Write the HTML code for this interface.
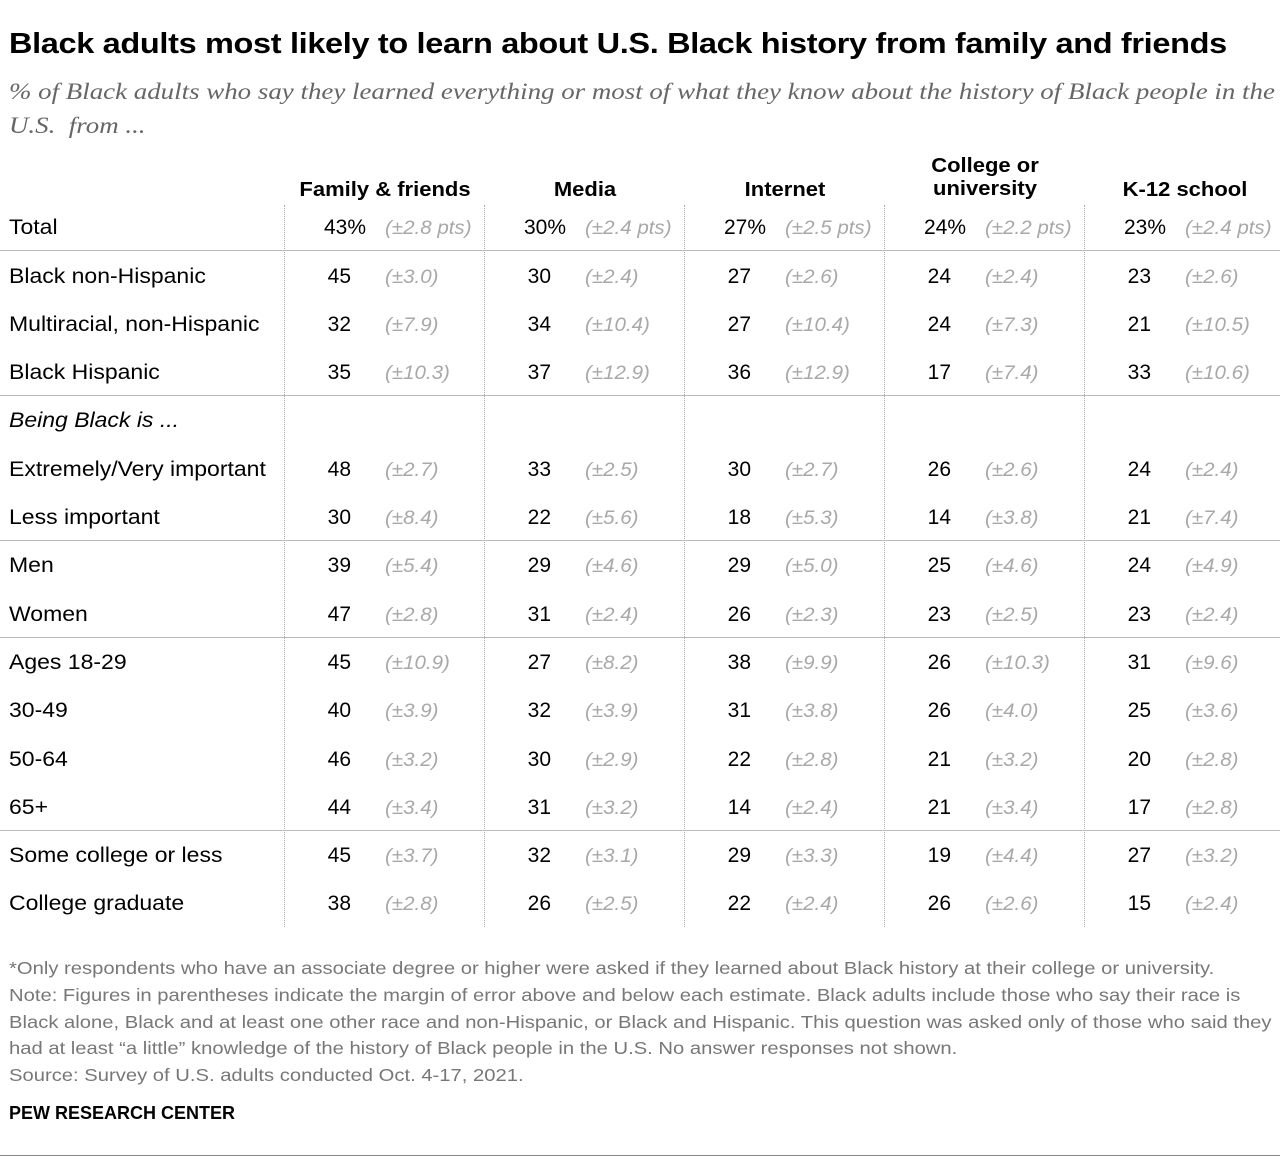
<!DOCTYPE html>
<html><head><meta charset="utf-8"><style>
body{margin:0;width:1280px;height:1160px;background:#fff;font-family:"Liberation Sans",sans-serif;position:relative;overflow:hidden;color:#000}
.a{position:absolute;white-space:nowrap}
.t{left:9px;top:28px;font-size:29px;font-weight:bold;letter-spacing:-0.3px;transform:scaleX(1.12);transform-origin:0 0}
.s{left:9px;font-family:"Liberation Serif",serif;font-style:italic;font-size:23.5px;color:#666;transform:scaleX(1.145);transform-origin:0 0}
.h{font-weight:bold;font-size:20px;text-align:center;width:200px;line-height:23px;transform:scaleX(1.1)}
.l{left:9px;font-size:21px;transform:scaleX(1.095);transform-origin:0 0}
.v{font-size:21px;width:60px;text-align:right}
.m{font-size:19px;font-style:italic;color:#a8a8a8;transform:scaleX(1.08);transform-origin:0 0}
.vl{position:absolute;top:205px;height:722px;border-left:1px dotted #aaa}
.hl{position:absolute;left:0;width:1280px;border-top:1px solid #bbb}
.f{left:9px;font-size:17.5px;color:#777;transform:scaleX(1.155);transform-origin:0 0}
</style></head><body>
<div class="a t">Black adults most likely to learn about U.S. Black history from family and friends</div>
<div class="a s" style="top:79px">% of Black adults who say they learned everything or most of what they know about the history of Black people in the</div>
<div class="a s" style="top:113px">U.S.&nbsp; from ...</div>
<div class="a h" style="left:285px;top:179px">Family &amp; friends</div>
<div class="a h" style="left:485px;top:179px">Media</div>
<div class="a h" style="left:685px;top:179px">Internet</div>
<div class="a h" style="left:885px;top:155px">College or<br>university</div>
<div class="a h" style="left:1085px;top:179px">K-12 school</div>
<div class="vl" style="left:284px"></div><div class="vl" style="left:484px"></div><div class="vl" style="left:684px"></div><div class="vl" style="left:884px"></div><div class="vl" style="left:1084px"></div>
<div class="hl" style="top:250px"></div><div class="hl" style="top:395px"></div><div class="hl" style="top:540px"></div><div class="hl" style="top:637px"></div><div class="hl" style="top:830px"></div>
<div id="rows"></div>
<div class="a f" style="top:958px">*Only respondents who have an associate degree or higher were asked if they learned about Black history at their college or university.</div>
<div class="a f" style="top:985px">Note: Figures in parentheses indicate the margin of error above and below each estimate. Black adults include those who say their race is</div>
<div class="a f" style="top:1012px">Black alone, Black and at least one other race and non-Hispanic, or Black and Hispanic. This question was asked only of those who said they</div>
<div class="a f" style="top:1038px">had at least “a little” knowledge of the history of Black people in the U.S. No answer responses not shown.</div>
<div class="a f" style="top:1065px">Source: Survey of U.S. adults conducted Oct. 4-17, 2021.</div>
<div class="a" style="left:9px;top:1103px;font-size:18px;font-weight:bold">PEW RESEARCH CENTER</div>
<div class="hl" style="top:1155px;border-color:#888"></div>
<script>
var R=[["Total","43%|±2.8 pts","30%|±2.4 pts","27%|±2.5 pts","24%|±2.2 pts","23%|±2.4 pts"],
["Black non-Hispanic","45|±3.0","30|±2.4","27|±2.6","24|±2.4","23|±2.6"],
["Multiracial, non-Hispanic","32|±7.9","34|±10.4","27|±10.4","24|±7.3","21|±10.5"],
["Black Hispanic","35|±10.3","37|±12.9","36|±12.9","17|±7.4","33|±10.6"],
["<i>Being Black is ...</i>"],
["Extremely/Very important","48|±2.7","33|±2.5","30|±2.7","26|±2.6","24|±2.4"],
["Less important","30|±8.4","22|±5.6","18|±5.3","14|±3.8","21|±7.4"],
["Men","39|±5.4","29|±4.6","29|±5.0","25|±4.6","24|±4.9"],
["Women","47|±2.8","31|±2.4","26|±2.3","23|±2.5","23|±2.4"],
["Ages 18-29","45|±10.9","27|±8.2","38|±9.9","26|±10.3","31|±9.6"],
["30-49","40|±3.9","32|±3.9","31|±3.8","26|±4.0","25|±3.6"],
["50-64","46|±3.2","30|±2.9","22|±2.8","21|±3.2","20|±2.8"],
["65+","44|±3.4","31|±3.2","14|±2.4","21|±3.4","17|±2.8"],
["Some college or less","45|±3.7","32|±3.1","29|±3.3","19|±4.4","27|±3.2"],
["College graduate","38|±2.8","26|±2.5","22|±2.4","26|±2.6","15|±2.4"]];
var tops=[216,265,313,361,409,458,506,554,603,651,699,748,796,844,892],h="";
R.forEach(function(r,i){var y=tops[i];h+='<div class="a l" style="top:'+y+'px">'+r[0]+'</div>';
for(var c=1;c<r.length;c++){var p=r[c].split("|"),x=284+(c-1)*200;
var w=p[0].indexOf("%")>0;
h+='<div class="a v" style="top:'+y+'px;left:'+(x+(w?22:7))+'px">'+p[0]+'</div>';
h+='<div class="a m" style="top:'+(y+2)+'px;left:'+(x+101)+'px">('+p[1]+')</div>';}});
document.getElementById("rows").innerHTML=h;
</script>
</body></html>
